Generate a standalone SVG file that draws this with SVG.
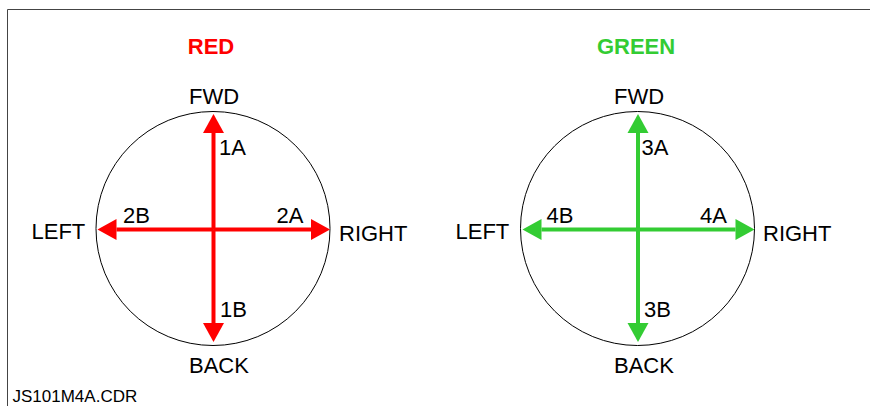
<svg xmlns="http://www.w3.org/2000/svg" width="870" height="406" viewBox="0 0 870 406">
<style>
text{font-family:"Liberation Sans",Arial,sans-serif;font-size:22px;fill:#000}
.title{font-weight:bold}
.dial{fill:none;stroke:#000;stroke-width:1}
.frame{stroke:#444;stroke-width:1;fill:none}
.ar{stroke:#ff0000;stroke-width:4;marker-end:url(#hr)}
.ag{stroke:#33cc33;stroke-width:4;marker-end:url(#hg)}
</style>
<defs>
<marker id="hr" markerUnits="userSpaceOnUse" markerWidth="20" markerHeight="22" refX="0" refY="10.5" orient="auto" overflow="visible"><path d="M0,0 L19,10.5 L0,21 Z" fill="#ff0000"/></marker>
<marker id="hg" markerUnits="userSpaceOnUse" markerWidth="20" markerHeight="22" refX="0" refY="10.5" orient="auto" overflow="visible"><path d="M0,0 L19,10.5 L0,21 Z" fill="#33cc33"/></marker>
</defs>
<rect width="870" height="406" fill="#fff"/>
<path class="frame" d="M7.5,406 V9.5 H870"/>
<g id="red-dial">
<text class="title" x="211" y="54" text-anchor="middle" style="fill:#ff0000">RED</text>
<circle class="dial" cx="213" cy="228.5" r="117"/>
<text x="189" y="104">FWD</text>
<text x="189" y="373">BACK</text>
<text x="31.5" y="239">LEFT</text>
<text x="339" y="240.5">RIGHT</text>
<text x="219" y="155">1A</text>
<text x="220" y="316.5">1B</text>
<text x="123" y="223">2B</text>
<text x="276.5" y="223">2A</text>
</g>
<g id="green-dial">
<text class="title" x="636" y="54" text-anchor="middle" style="fill:#33cc33">GREEN</text>
<circle class="dial" cx="637.5" cy="228.5" r="117"/>
<text x="614" y="104">FWD</text>
<text x="614" y="373">BACK</text>
<text x="455.5" y="239">LEFT</text>
<text x="763" y="240.5">RIGHT</text>
<text x="641.5" y="155">3A</text>
<text x="644" y="316.5">3B</text>
<text x="546.5" y="223">4B</text>
<text x="700" y="223">4A</text>
</g>
<g id="connectors">
<line class="ar" x1="213.5" y1="229.5" x2="213.5" y2="133"/>
<line class="ar" x1="213.5" y1="229.5" x2="213.5" y2="323"/>
<line class="ar" x1="213.5" y1="229.5" x2="116.5" y2="229.5"/>
<line class="ar" x1="213.5" y1="229.5" x2="311" y2="229.5"/>
<line class="ag" x1="638" y1="229.5" x2="638" y2="133"/>
<line class="ag" x1="638" y1="229.5" x2="638" y2="323"/>
<line class="ag" x1="638" y1="229.5" x2="541.5" y2="229.5"/>
<line class="ag" x1="638" y1="229.5" x2="735.5" y2="229.5"/>
</g>
<text x="12.5" y="402" style="font-size:17px">JS101M4A.CDR</text>
</svg>
